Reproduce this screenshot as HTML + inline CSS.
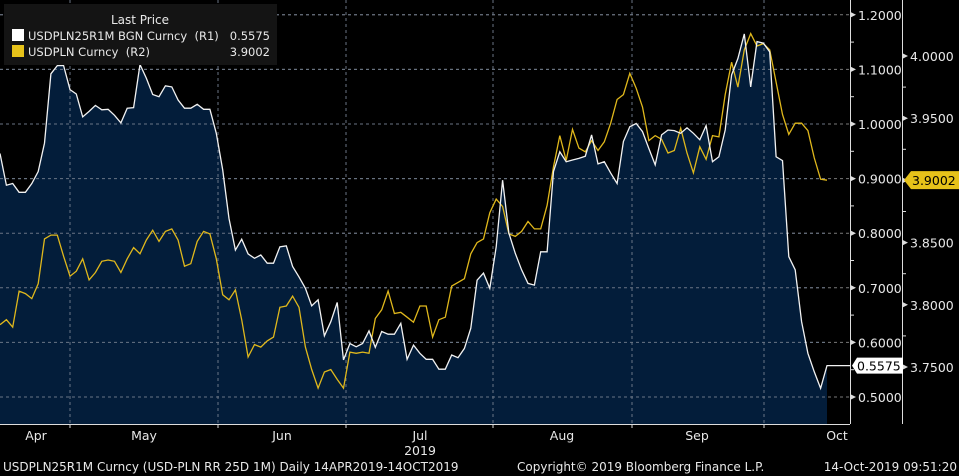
<!DOCTYPE html>
<html><head><meta charset="utf-8">
<style>
html,body{margin:0;padding:0;background:#000;width:959px;height:476px;overflow:hidden;font-family:"DejaVu Sans","Liberation Sans",sans-serif;}
svg text{font-family:"DejaVu Sans","Liberation Sans",sans-serif;}
</style></head>
<body>
<svg id="chart" width="959" height="476" viewBox="0 0 959 476" xmlns="http://www.w3.org/2000/svg">
<g id="grid"></g>
<g id="series"></g>
<g id="axes"></g>
<g id="legend">
  <rect x="4" y="4" width="273" height="61" fill="#141414"/>
  <text x="140" y="24" fill="#e8e8e8" font-size="12" text-anchor="middle">Last Price</text>
  <g>
    <rect x="12" y="29" width="12" height="12" fill="#fff"/>
    <text x="28" y="40" fill="#e8e8e8" font-size="11.5" xml:space="preserve">USDPLN25R1M BGN Curncy  (R1)</text>
    <text x="270" y="40" fill="#e8e8e8" font-size="11.5" text-anchor="end">0.5575</text>
  </g>
  <g>
    <rect x="12" y="45" width="12" height="12" fill="#e6c21a"/>
    <text x="28" y="56" fill="#e8e8e8" font-size="11.5" xml:space="preserve">USDPLN Curncy  (R2)</text>
    <text x="270" y="56" fill="#e8e8e8" font-size="11.5" text-anchor="end">3.9002</text>
  </g>
</g>
</svg>
<script>
const rrValues=[0.946,0.888,0.891,0.875,0.875,0.891,0.913,0.965,1.092,1.107,1.107,1.063,1.055,1.013,1.023,1.034,1.026,1.027,1.016,1.002,1.029,1.030,1.109,1.084,1.054,1.050,1.070,1.068,1.044,1.029,1.029,1.036,1.027,1.027,0.983,0.916,0.827,0.769,0.789,0.762,0.754,0.760,0.745,0.745,0.775,0.777,0.739,0.720,0.699,0.667,0.678,0.612,0.638,0.673,0.568,0.598,0.592,0.598,0.621,0.591,0.620,0.615,0.615,0.635,0.569,0.595,0.580,0.569,
0.569,0.551,0.551,0.577,0.572,0.589,0.626,0.714,0.727,0.699,0.775,0.897,0.800,0.763,0.733,0.708,0.705,0.766,0.766,0.913,0.949,0.931,0.934,0.937,0.941,0.980,0.927,0.931,0.910,0.891,0.968,0.995,1.001,0.986,0.955,0.925,0.980,0.989,0.988,0.983,0.993,0.983,0.971,0.997,0.931,0.940,0.989,1.090,1.120,1.165,1.068,1.151,1.148,1.132,0.940,0.933,0.757,0.733,0.638,0.580,0.546,0.516,0.5575];
const spotValues=[3.784,3.788,3.782,3.811,3.809,3.805,3.817,3.853,3.856,3.856,3.839,3.823,3.827,3.837,3.820,3.826,3.835,3.836,3.835,3.826,3.837,3.846,3.841,3.852,3.860,3.851,3.859,3.861,3.852,3.831,3.833,3.851,3.859,3.857,3.837,3.808,3.804,3.812,3.788,3.758,3.768,3.766,3.771,3.774,3.798,3.799,3.807,3.798,3.766,3.748,3.733,3.746,3.748,3.740,3.733,3.762,3.761,3.762,3.761,3.789,3.796,3.811,3.793,3.794,3.790,3.786,3.799,3.799,
3.774,3.788,3.790,3.815,3.818,3.821,3.841,3.850,3.853,3.874,3.885,3.879,3.857,3.855,3.859,3.867,3.861,3.861,3.880,3.911,3.936,3.916,3.941,3.926,3.923,3.932,3.924,3.931,3.946,3.965,3.969,3.986,3.974,3.959,3.932,3.936,3.933,3.922,3.924,3.942,3.922,3.906,3.927,3.917,3.936,3.935,3.969,3.995,3.975,4.005,4.018,4.008,4.010,4.005,3.979,3.953,3.937,3.946,3.946,3.940,3.918,3.901,3.9002];
const r1Ticks=[0.5,0.6,0.7,0.8,0.9,1.0,1.1,1.2];
const r2Ticks=[3.75,3.80,3.85,3.90,3.95,4.00];
const monthLabels=["Apr","May","Jun","Jul","Aug","Sep","Oct"];
const monthLabelX=[36,144,282,420,562,697,837];
const gridX=[70,218,346,493,632,764];

const NS="http://www.w3.org/2000/svg";
const PLOT_L=0,PLOT_R=850,PLOT_B=424,DATA_R=827;
function yR1(v){return 397-(v-0.5)*546;}
function yR2(v){return 367-(v-3.75)*1244;}
function xIdx(i,n){return PLOT_L+(DATA_R-PLOT_L)*i/(n-1);}
function mk(tag,attrs,parent){const e=document.createElementNS(NS,tag);for(const k in attrs)e.setAttribute(k,attrs[k]);parent.appendChild(e);return e;}

const grid=document.getElementById('grid');
r1Ticks.forEach(t=>{
  const l=mk('line',{x1:0,x2:PLOT_R,y1:yR1(t),y2:yR1(t),stroke:'#7a7a7a','stroke-dasharray':'3,3','stroke-width':1},grid);
  
  
});
gridX.forEach(x=>{
  const l=mk('line',{x1:x,x2:x,y1:0,y2:PLOT_B,stroke:'#7a7a7a','stroke-dasharray':'3,3','stroke-width':1},grid);
  
  
});

const series=document.getElementById('series');
let pts=rrValues.map((v,i)=>[xIdx(i,rrValues.length),yR1(v)]);
let d='M'+pts.map(p=>p[0].toFixed(1)+','+p[1].toFixed(1)).join('L');
const area=mk('path',{d:d+'L'+DATA_R+','+PLOT_B+'L0,'+PLOT_B+'Z',fill:'#031d3a'},series);


r1Ticks.forEach(t=>{
  const l=mk('line',{x1:0,x2:DATA_R,y1:yR1(t),y2:yR1(t),stroke:'#6a7585','stroke-dasharray':'3,3','stroke-width':1},series);
  
  
});
gridX.forEach(x=>{
  const l=mk('line',{x1:x,x2:x,y1:0,y2:PLOT_B,stroke:'#6a7585','stroke-dasharray':'3,3','stroke-width':1},series);
  
  
});
const spts=spotValues.map((v,i)=>[xIdx(i,spotValues.length),yR2(v)]);
const sl=mk('path',{d:'M'+spts.map(p=>p[0].toFixed(1)+','+p[1].toFixed(1)).join('L'),fill:'none',stroke:'#e0b81c','stroke-width':1.3},series);


const last=rrValues[rrValues.length-1];
const wl=mk('path',{d:d+'L'+PLOT_R+','+yR1(last).toFixed(1),fill:'none',stroke:'#f2f2f2','stroke-width':1.3},series);



const axes=document.getElementById('axes');
const ax1=mk('line',{x1:PLOT_R+0.5,x2:PLOT_R+0.5,y1:0,y2:PLOT_B,stroke:'#ddd'},axes);


const ax2=mk('line',{x1:902.5,x2:902.5,y1:0,y2:PLOT_B,stroke:'#ddd'},axes);


const axb=mk('line',{x1:0,x2:PLOT_R,y1:PLOT_B+0.5,y2:PLOT_B+0.5,stroke:'#ddd'},axes);


r1Ticks.forEach(t=>{
  const y=yR1(t);
  mk('path',{d:`M${PLOT_R},${y-3}L${PLOT_R+6},${y}L${PLOT_R},${y+3}Z`,fill:'#ddd'},axes);
  const tx=mk('text',{x:PLOT_R+8,y:y+5,fill:'#e8e8e8','font-size':12.5},axes);
  tx.textContent=t.toFixed(4);
  
  
});
for(let v=0.55;v<1.2;v+=0.1){const y=yR1(v);mk('line',{x1:PLOT_R,x2:PLOT_R+4,y1:y,y2:y,stroke:'#ddd'},axes);}
r2Ticks.forEach(t=>{
  const y=yR2(t);
  mk('path',{d:`M902,${y-3}L908,${y}L902,${y+3}Z`,fill:'#ddd'},axes);
  if(Math.abs(t-3.9)<0.001)return;
  const tx=mk('text',{x:910,y:y+5,fill:'#e8e8e8','font-size':12.5},axes);
  tx.textContent=t.toFixed(4);
  
  
});
for(let v=3.775;v<4.02;v+=0.05){const y=yR2(v);mk('line',{x1:902,x2:906,y1:y,y2:y,stroke:'#ddd'},axes);}
gridX.forEach(x=>mk('line',{x1:x,x2:x,y1:PLOT_B,y2:PLOT_B+4,stroke:'#ddd'},axes));
monthLabels.forEach((m,i)=>{
  const tx=mk('text',{x:monthLabelX[i],y:440,fill:'#e8e8e8','font-size':12.5,'text-anchor':'middle'},axes);
  tx.textContent=m;
  
  
});
const yr=mk('text',{x:420,y:455,fill:'#e8e8e8','font-size':12.5,'text-anchor':'middle'},axes);
yr.textContent='2019';


const ly=yR1(last);
const t1=mk('path',{d:`M852,${ly}L857,${ly-8}L903,${ly-8}L903,${ly+8}L857,${ly+8}Z`,fill:'#fff'},axes);


const t1t=mk('text',{x:857,y:ly+5,fill:'#000','font-size':12.5},axes);
t1t.textContent=last.toFixed(4);


const sLast=spotValues[spotValues.length-1];
const sy=yR2(sLast);
const t2=mk('path',{d:`M904,${sy}L911,${sy-9}L959,${sy-9}L959,${sy+9}L911,${sy+9}Z`,fill:'#e6c21a'},axes);


const t2t=mk('text',{x:912,y:sy+5,fill:'#000','font-size':12.5},axes);
t2t.textContent=sLast.toFixed(4);


const f1=mk('text',{x:3,y:471,fill:'#e8e8e8','font-size':12},axes);
f1.textContent='USDPLN25R1M Curncy (USD-PLN RR 25D 1M)  Daily 14APR2019-14OCT2019';


const f2=mk('text',{x:517,y:471,fill:'#e8e8e8','font-size':12},axes);
f2.textContent='Copyright© 2019 Bloomberg Finance L.P.';


const f3=mk('text',{x:957,y:471,fill:'#e8e8e8','font-size':12,'text-anchor':'end'},axes);
f3.textContent='14-Oct-2019 09:51:20';


</script>
</body></html>
